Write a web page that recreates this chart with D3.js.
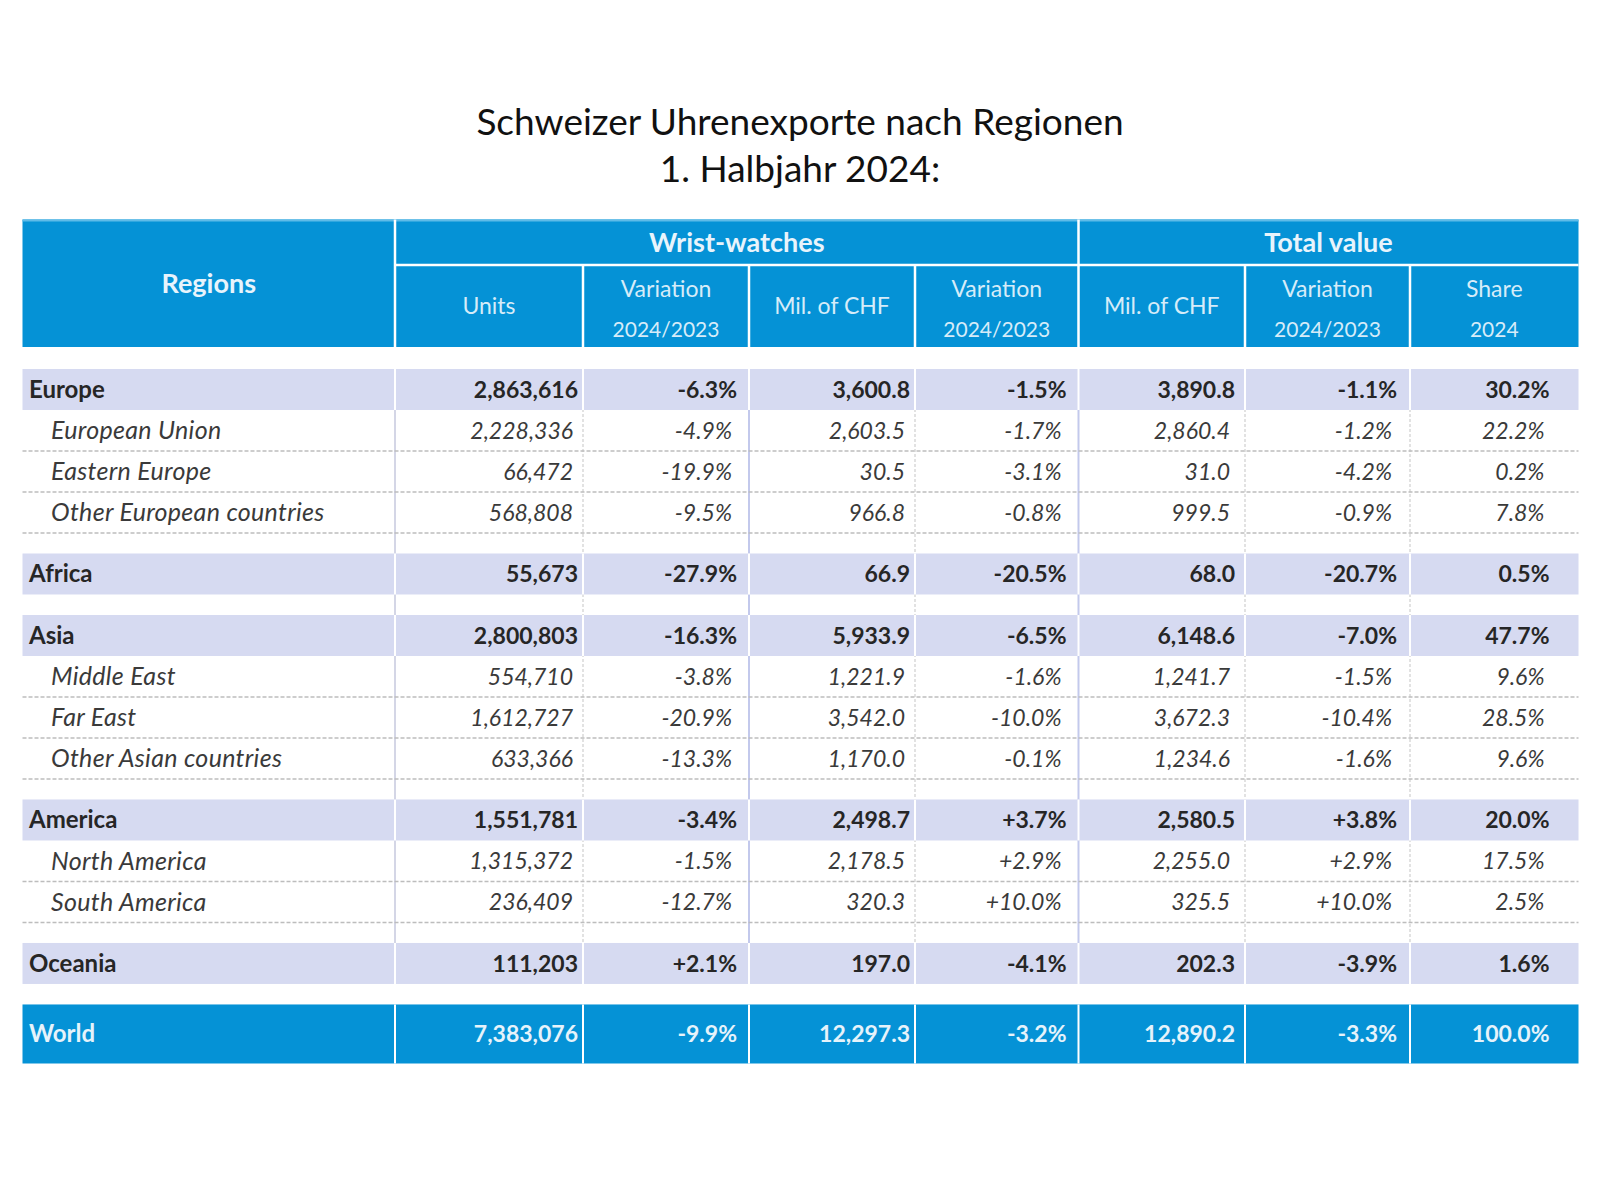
<!DOCTYPE html>
<html><head><meta charset="utf-8">
<script src="https://cdn.jsdelivr.net/npm/d3@7"></script>
<style>body{margin:0;background:#fff}</style>
</head><body><svg id="c" width="1600" height="1199"></svg>
<script>
// ---------- DATA ----------
const titleLines = ["Schweizer Uhrenexporte nach Regionen", "1. Halbjahr 2024:"];
const regions = ["Europe","European Union","Eastern Europe","Other European countries","Africa","Asia","Middle East","Far East","Other Asian countries","America","North America","South America","Oceania","World"];
const levels  = ["main","sub","sub","sub","main","main","sub","sub","sub","main","sub","sub","main","total"];
const units    = [2863616,2228336,66472,568808,55673,2800803,554710,1612727,633366,1551781,1315372,236409,111203,7383076];
const unitsVar = [-6.3,-4.9,-19.9,-9.5,-27.9,-16.3,-3.8,-20.9,-13.3,-3.4,-1.5,-12.7,2.1,-9.9];
const wwValue  = [3600.8,2603.5,30.5,966.8,66.9,5933.9,1221.9,3542.0,1170.0,2498.7,2178.5,320.3,197.0,12297.3];
const wwVar    = [-1.5,-1.7,-3.1,-0.8,-20.5,-6.5,-1.6,-10.0,-0.1,3.7,2.9,10.0,-4.1,-3.2];
const totValue = [3890.8,2860.4,31.0,999.5,68.0,6148.6,1241.7,3672.3,1234.6,2580.5,2255.0,325.5,202.3,12890.2];
const totVar   = [-1.1,-1.2,-4.2,-0.9,-20.7,-7.0,-1.5,-10.4,-1.6,3.8,2.9,10.0,-3.9,-3.3];
const share    = [30.2,22.2,0.2,7.8,0.5,47.7,9.6,28.5,9.6,20.0,17.5,2.5,1.6,100.0];
const groupHeaders = ["Wrist-watches", "Total value"];
const regionHeader = "Regions";
const columnHeaders = [["Units"],["Variation","2024/2023"],["Mil. of CHF"],["Variation","2024/2023"],["Mil. of CHF"],["Variation","2024/2023"],["Share","2024"]];
const gapAfter = ["Other European countries","Africa","Other Asian countries","South America","Oceania"];

// ---------- LAYOUT / STYLE ----------
const BLUE = "#0592d6", BAND = "#d6daf1";
const FONT = "Lato, 'Open Sans', sans-serif";
const colEdges = [22.5, 395, 583, 749, 915, 1078.5, 1245, 1410, 1578.5];
const padRight = [5, 12, 5, 12, 10, 13, 29];
const majorEdges = [1, 3, 5];
const L = d3.formatLocale({decimal: ".", thousands: ",", grouping: [3], currency: ["", ""], minus: "-"});
const fInt = L.format(","), fDec = L.format(",.1f"), fVar = L.format("+.1f"), fShare = L.format(".1f");
const columns = [
  i => fInt(units[i]), i => fVar(unitsVar[i]) + "%",
  i => fDec(wwValue[i]), i => fVar(wwVar[i]) + "%",
  i => fDec(totValue[i]), i => fVar(totVar[i]) + "%",
  i => fShare(share[i]) + "%"
];

// row positions in row units
let acc = 0;
const rows = regions.map((r, i) => {
  const h = levels[i] === "total" ? 1.44 : 1;
  const o = {name: r, level: levels[i], i, start: acc, end: acc + h};
  acc += h;
  if (gapAfter.includes(r)) acc += 0.5;
  return o;
});
const y = d3.scaleLinear().domain([0, acc]).range([369, 1063.5]);

const svg = d3.select("#c");
svg.append("rect").attr("width", 1600).attr("height", 1199).attr("fill", "#fff");

// title
svg.append("g").selectAll("text").data(titleLines).join("text")
  .attr("x", 800).attr("y", (d, i) => 135 + i * 47)
  .attr("text-anchor", "middle").attr("font-family", FONT).attr("font-size", 37)
  .attr("fill", "#111").text(d => d);

// header
const hTop = 219.5, hMid = 265, hBot = 347;
const x0 = colEdges[0], x1 = colEdges[colEdges.length - 1];
svg.append("rect").attr("x", x0).attr("y", hTop).attr("width", x1 - x0).attr("height", hBot - hTop).attr("fill", BLUE);
svg.append("line").attr("x1", x0).attr("x2", x1).attr("y1", hTop + 1).attr("y2", hTop + 1).attr("stroke", "#5fbbe8").attr("stroke-width", 2);
const hw = svg.append("g").attr("stroke", "#fff").attr("stroke-width", 2.5);
hw.append("line").attr("x1", colEdges[1]).attr("x2", x1).attr("y1", hMid).attr("y2", hMid);
colEdges.slice(1, -1).forEach((e, k) => {
  const full = majorEdges.includes(k + 1) && k + 1 !== 3;
  hw.append("line").attr("x1", e).attr("x2", e).attr("y1", full ? hTop : hMid).attr("y2", hBot);
});
svg.append("text").attr("x", (colEdges[0] + colEdges[1]) / 2).attr("y", (hTop + hBot) / 2)
  .attr("dy", "0.35em").attr("text-anchor", "middle").attr("font-family", FONT).attr("font-weight", "bold")
  .attr("font-size", 27).attr("fill", "#e8f4fc").text(regionHeader);
const groupSpans = [[colEdges[1], colEdges[5]], [colEdges[5], colEdges[8]]];
svg.append("g").selectAll("text").data(groupHeaders).join("text")
  .attr("x", (d, i) => (groupSpans[i][0] + groupSpans[i][1]) / 2).attr("y", (hTop + hMid) / 2)
  .attr("dy", "0.35em").attr("text-anchor", "middle").attr("font-family", FONT).attr("font-weight", "bold")
  .attr("font-size", 27).attr("fill", "#e8f4fc").text(d => d);
const ch = svg.append("g").attr("font-family", FONT).attr("fill", "#d6ecf9").attr("text-anchor", "middle");
columnHeaders.forEach((lines, k) => {
  const cx = (colEdges[k + 1] + colEdges[k + 2]) / 2;
  const cy = (hMid + hBot) / 2;
  lines.forEach((t, j) => {
    const yy = lines.length === 1 ? cy : cy + (j === 0 ? -17 : 24);
    ch.append("text").attr("x", cx).attr("y", yy).attr("dy", "0.35em")
      .attr("font-size", /^\d/.test(t) ? 21 : 23).text(t);
  });
});

// body vertical lines (behind bands)
const bTop = y(rows[0].start), bBot = y(rows[12].end);
const vl = svg.append("g");
colEdges.slice(1, -1).forEach((e, k) => {
  const major = majorEdges.includes(k + 1);
  vl.append("line").attr("x1", e).attr("x2", e).attr("y1", bTop).attr("y2", bBot)
    .attr("stroke", major ? (k === 0 ? "#d4d6e6" : "#c3c9ec") : "#cfcfcf")
    .attr("stroke-width", major ? 2 : 1.2)
    .attr("stroke-dasharray", major ? null : "3,2");
});

// bands
const bandRows = rows.filter(r => r.level !== "sub");
svg.append("g").selectAll("rect").data(bandRows).join("rect")
  .attr("x", x0).attr("width", x1 - x0)
  .attr("y", d => y(d.start)).attr("height", d => y(d.end) - y(d.start))
  .attr("fill", d => d.level === "total" ? BLUE : BAND);
const bw = svg.append("g").attr("stroke", "#fff").attr("stroke-width", 2);
bandRows.forEach(r => {
  colEdges.slice(1, -1).forEach(e => {
    bw.append("line").attr("x1", e).attr("x2", e).attr("y1", y(r.start)).attr("y2", y(r.end));
  });
});

// dashed horizontal lines under sub rows
svg.append("g").selectAll("line").data(rows.filter(r => r.level === "sub")).join("line")
  .attr("x1", x0).attr("x2", x1).attr("y1", d => y(d.end)).attr("y2", d => y(d.end))
  .attr("stroke", "#bdbdbd").attr("stroke-width", 1.5).attr("stroke-dasharray", "4,2");

// text
const txt = svg.append("g").attr("font-family", FONT);
rows.forEach(r => {
  const cy = (y(r.start) + y(r.end)) / 2;
  const isSub = r.level === "sub";
  const color = r.level === "total" ? "#e6f3fb" : (isSub ? "#3a3a3a" : "#262626");
  const weight = isSub ? "normal" : "bold";
  const style = isSub ? "italic" : "normal";
  txt.append("text").attr("x", isSub ? 51 : 29).attr("y", cy).attr("dy", "0.35em")
    .attr("font-size", isSub ? 25 : 24).attr("letter-spacing", isSub ? 0.3 : 0)
    .attr("fill", color).attr("font-weight", weight).attr("font-style", style).text(r.name);
  columns.forEach((fn, k) => {
    txt.append("text").attr("x", colEdges[k + 2] - padRight[k] - (isSub ? 5 : 0)).attr("y", cy).attr("dy", "0.35em")
      .attr("font-size", 23)
      .attr("text-anchor", "end").attr("fill", color).attr("font-weight", weight).attr("font-style", style)
      .text(fn(r.i));
  });
});
</script></body></html>
